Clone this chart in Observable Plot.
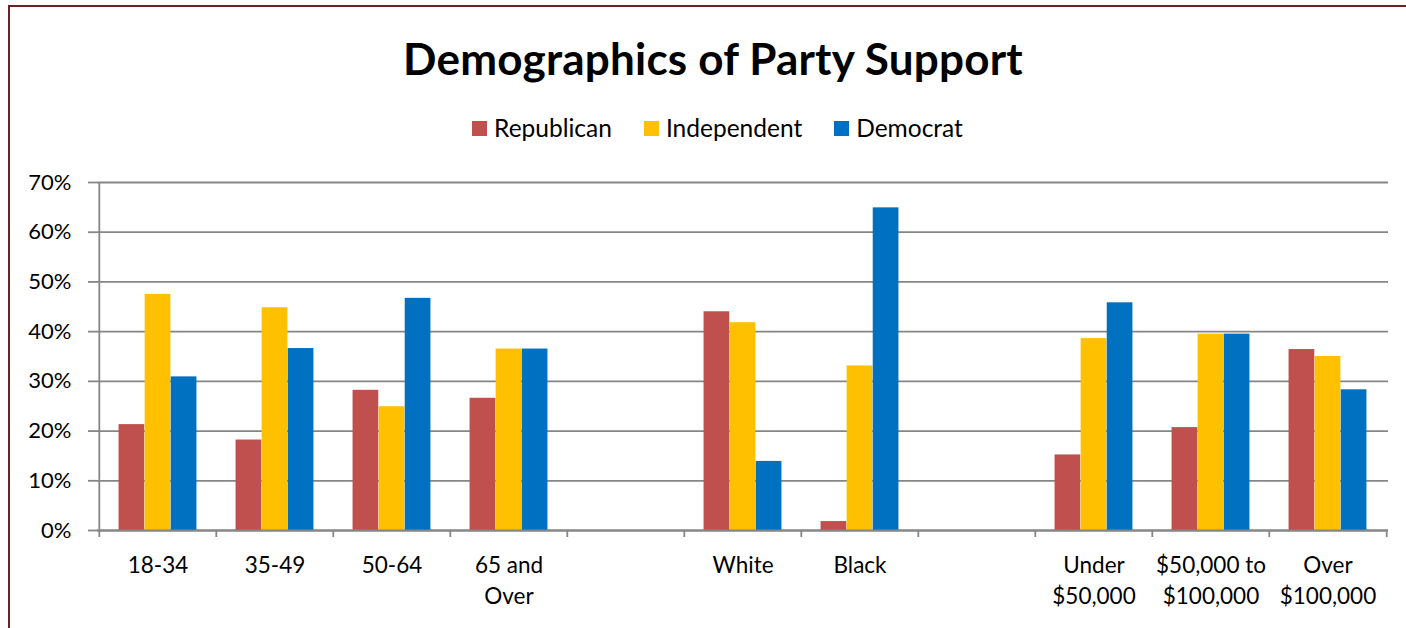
<!DOCTYPE html>
<html>
<head>
<meta charset="utf-8">
<script src="https://cdn.jsdelivr.net/npm/d3@7"></script>
<script src="https://cdn.jsdelivr.net/npm/@observablehq/plot@0.6"></script>
<style>
  html, body { margin: 0; padding: 0; background: #fff; width: 1406px; height: 628px; overflow: hidden; position: relative; font-family: Lato, "Noto Sans", sans-serif; }
  #frame { position: absolute; left: 8px; top: 5px; width: 1500px; height: 700px; border-top: 2px solid #6b2222; border-left: 2px solid #6b2222; box-sizing: border-box; }
  #title { position: absolute; left: 0; width: 1426px; top: 36px; text-align: center; font-weight: 700; font-size: 44px; line-height: 1; color: #000; letter-spacing: 0.2px; }
  #legend { position: absolute; left: 0; width: 1435px; top: 116px; display: flex; justify-content: center; gap: 32px; font-size: 24.5px; line-height: 1; color: #000; }
  .item { display: flex; align-items: center; gap: 7px; }
  .sw { width: 15px; height: 15px; display: inline-block; }
  #chart { position: absolute; left: 0; top: 150px; }
</style>
</head>
<body>
<div id="frame"></div>
<div id="title">Demographics of Party Support</div>
<div id="legend"></div>
<div id="chart"></div>
<script>
// ---- data ----
const categories = ["18-34", "35-49", "50-64", "65 and Over", "gap1", "White", "Black", "gap2", "Under $50,000", "$50,000 to $100,000", "Over $100,000"];
const tickLabels = ["18-34", "35-49", "50-64", "65 and\nOver", "", "White", "Black", "", "Under\n$50,000", "$50,000 to\n$100,000", "Over\n$100,000"];
const parties = ["Republican", "Independent", "Democrat"];
const partyColors = ["#C0504D", "#FFC000", "#0070C0"];
const republican  = [21.3, 18.2, 28.2, 26.6, null, 44.0,  1.8, null, 15.2, 20.7, 36.4];
const independent = [47.5, 44.8, 24.9, 36.5, null, 41.8, 33.1, null, 38.6, 39.5, 35.0];
const democrat    = [30.9, 36.6, 46.7, 36.5, null, 13.9, 64.9, null, 45.8, 39.5, 28.3];
const yTicks = [0, 10, 20, 30, 40, 50, 60, 70];

// ---- table ----
const series = [republican, independent, democrat];
const rows = [];
parties.forEach((p, j) => categories.forEach((c, i) => {
  if (series[j][i] != null) rows.push({category: c, party: p, value: series[j][i]});
}));

// ---- layout ----
const width = 1406, height = 478, ml = 97, mr = 18, mt = 32, mb = 98;
const bw = (width - ml - mr) / categories.length;
const barW = bw / 4.5;
const pad = barW * 0.75;
const gray = "#868686";
const labelOf = new Map(categories.map((c, i) => [c, tickLabels[i]]));

// legend
const legend = document.getElementById("legend");
parties.forEach((p, j) => {
  const it = document.createElement("div");
  it.className = "item";
  it.innerHTML = `<span class="sw" style="background:${partyColors[j]}"></span><span>${p}</span>`;
  legend.appendChild(it);
});

const barMarks = parties.map((p, j) => Plot.barY(rows.filter(r => r.party === p), {
  x: "category", y: "value", fill: partyColors[j],
  insetLeft: pad + j * barW, insetRight: pad + (2 - j) * barW
}));

const chart = Plot.plot({
  width, height,
  marginLeft: ml, marginRight: mr, marginTop: mt, marginBottom: mb,
  style: {fontFamily: "Lato, 'Noto Sans', sans-serif", fontSize: "22px", color: "#000", background: "transparent"},
  x: {type: "band", domain: categories, padding: 0, label: null},
  y: {domain: [0, 70], label: null},
  marks: [
    Plot.gridY(yTicks, {stroke: gray, strokeOpacity: 1, strokeWidth: 1.8}),
    ...barMarks,
    Plot.ruleY([0], {stroke: gray, strokeWidth: 1.8}),
    Plot.ruleX([categories[0]], {x: d => d, y1: 0, y2: 70, dx: -bw / 2, stroke: gray, strokeWidth: 1.8}),
    Plot.axisY(yTicks, {tickSize: 9, tickPadding: 17, tickFormat: d => d + "%", stroke: gray, strokeWidth: 1.8, fill: "#000", fontSize: 22, label: null}),
    Plot.axisX(categories, {tickSize: 7, tickFormat: () => "", dx: -bw / 2, stroke: gray, strokeWidth: 1.8, label: null}),
    Plot.axisX([categories[categories.length - 1]], {tickSize: 7, tickFormat: () => "", dx: bw / 2, stroke: gray, strokeWidth: 1.8, label: null}),
    Plot.axisX(categories, {tickSize: 0, tickPadding: 21, tickFormat: d => labelOf.get(d), lineHeight: 1.36, fill: "#000", fontSize: 22.5, label: null})
  ]
});
document.getElementById("chart").appendChild(chart);
</script>
</body>
</html>
